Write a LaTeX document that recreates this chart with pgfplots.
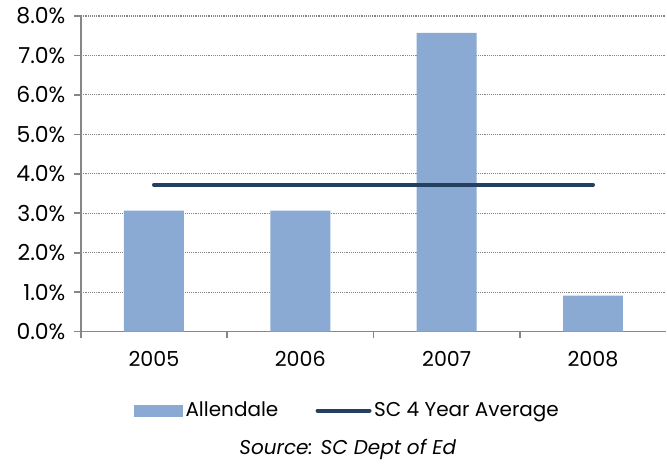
\documentclass[border=0pt]{standalone}
\usepackage{pgfplots}
\pgfplotsset{compat=1.18}
\usepackage{fontspec}
\setmainfont{Poppins}
\definecolor{barcol}{RGB}{138,170,211}
\definecolor{avgcol}{RGB}{36,63,96}
\definecolor{axgray}{RGB}{135,135,135}
\begin{document}
\begin{tikzpicture}
\begin{axis}[
    scale only axis, width=439.5pt, height=237pt,
    xmin=-0.5, xmax=3.5, ymin=0, ymax=8,
    axis lines=left, axis line style={-, axgray, line width=1.2pt},
    xtick={0,1,2,3}, xticklabels={2005,2006,2007,2008},
    minor xtick={-0.5,0.5,1.5,2.5},
    major x tick style={draw=none},
    minor x tick style={axgray, line width=1.2pt},
    ytick={0,1,...,8},
    y tick style={axgray, line width=1.2pt},
    tick align=outside, major tick length=5pt, minor tick length=5pt,
    ymajorgrids, grid style={axgray, densely dotted, line width=0.9pt},
    /pgf/number format/assume math mode=true,
    yticklabel={\pgfmathprintnumber[fixed,fixed zerofill,precision=1]{\tick}\%},
    ticklabel style={font=\fontsize{15.5}{18}\selectfont, text=black},
    yticklabel style={font=\fontsize{16.5}{19}\selectfont, xshift=-3pt},
    xticklabel style={yshift=-6pt},
    clip=false,
    legend style={at={(rel axis cs:0.456,-0.25)}, anchor=center, draw=none,
        legend columns=2, font=\fontsize{15}{18}\selectfont,
        /tikz/every even column/.append style={column sep=26pt}},
]
\addplot[ybar, bar width=45pt, fill=barcol, draw=none,
    legend image code/.code={\fill[barcol] (0pt,-4.5pt) rectangle (36.75pt,4.5pt);}]
    coordinates {(0,3.07) (1,3.07) (2,7.57) (3,0.91)};
\addlegendentry{Allendale}
\addplot[avgcol, line width=3pt, line cap=round, mark=none,
    legend image code/.code={\draw[avgcol, line width=3pt, line cap=round] (0pt,0pt) -- (39pt,0pt);}]
    coordinates {(0,3.72) (1,3.72) (2,3.72) (3,3.72)};
\addlegendentry{SC 4 Year Average}
\node[font=\fontsize{15}{18}\selectfont\itshape] at (rel axis cs:0.456,-0.373) {Source: SC Dept of Ed};
\path (rel axis cs:-0.138,-0.408) rectangle (rel axis cs:1,1.0506);
\end{axis}
\end{tikzpicture}
\end{document}
